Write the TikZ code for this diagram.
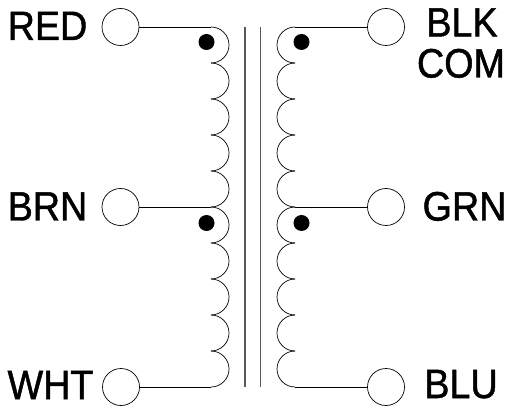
\documentclass[tikz,border=0pt]{standalone}
\usepackage{fontspec}
\setmainfont[FakeStretch=0.92,FakeBold=1.2]{Liberation Sans}
\usetikzlibrary{calc}
\tikzset{
  terminal/.style={circle,draw,fill=white,minimum size=37pt,inner sep=0pt,line width=0.7pt},
  polarity/.style={circle,fill,minimum size=16pt,inner sep=0pt},
  pinlabel/.style={anchor=base,inner sep=0pt,font=\fontsize{41}{41}\selectfont},
  winding/.style={line width=0.7pt},
  core/.style={line width=1.2pt,black!65}
}
\begin{document}
\begin{tikzpicture}[x=1pt,y=1pt]
  \useasboundingbox (0,0) rectangle (505,407);
  % terminals
  \node[terminal](red)at(120.5,380){};
  \node[terminal](brn)at(120.5,200){};
  \node[terminal](wht)at(121,20){};
  \node[terminal](blk)at(386,380){};
  \node[terminal](grn)at(386,200){};
  \node[terminal](blu)at(386,20){};
  % labels
  \node[pinlabel](redl)at(47.5,367){RED};
  \node[pinlabel](brnl)at(47.5,186.5){BRN};
  \node[pinlabel](whtl)at(50.5,8){WHT};
  \node[pinlabel](blkl)at(462,370.5){BLK};
  \node[pinlabel](coml)at(461,329.5){COM};
  \node[pinlabel](grnl)at(464.5,186.5){GRN};
  \node[pinlabel](blul)at(461,9){BLU};
  % leads
  \coordinate (lt) at (211,380);
  \coordinate (lm) at (211,200);
  \coordinate (lb) at (211,20);
  \coordinate (rt) at (295,380);
  \coordinate (rm) at (295,200);
  \coordinate (rb) at (295,20);
  \draw[winding](red)--(lt);
  \draw[winding](brn)--(lm);
  \draw[winding](wht)--(lb);
  \draw[winding](blk)--(rt);
  \draw[winding](grn)--(rm);
  \draw[winding](blu)--(rb);
  % windings
  \foreach \k in {0,...,9}{
    \draw[winding] ($(lt)+(0,-36*\k)$) arc (90:-90:18);
    \draw[winding] ($(rt)+(0,-36*\k)$) arc (90:270:18);
  }
  % core
  \coordinate (ca) at (245,380);
  \coordinate (cb) at (245,20);
  \coordinate (cc) at (260.5,380);
  \coordinate (cd) at (260.5,20);
  \draw[core](ca)--(cb);
  \draw[core](cc)--(cd);
  % dots
  \node[polarity](d1)at(206.5,365){};
  \node[polarity](d2)at(301.5,365){};
  \node[polarity](d3)at(206.5,184){};
  \node[polarity](d4)at(301.5,184){};
\end{tikzpicture}
\end{document}
